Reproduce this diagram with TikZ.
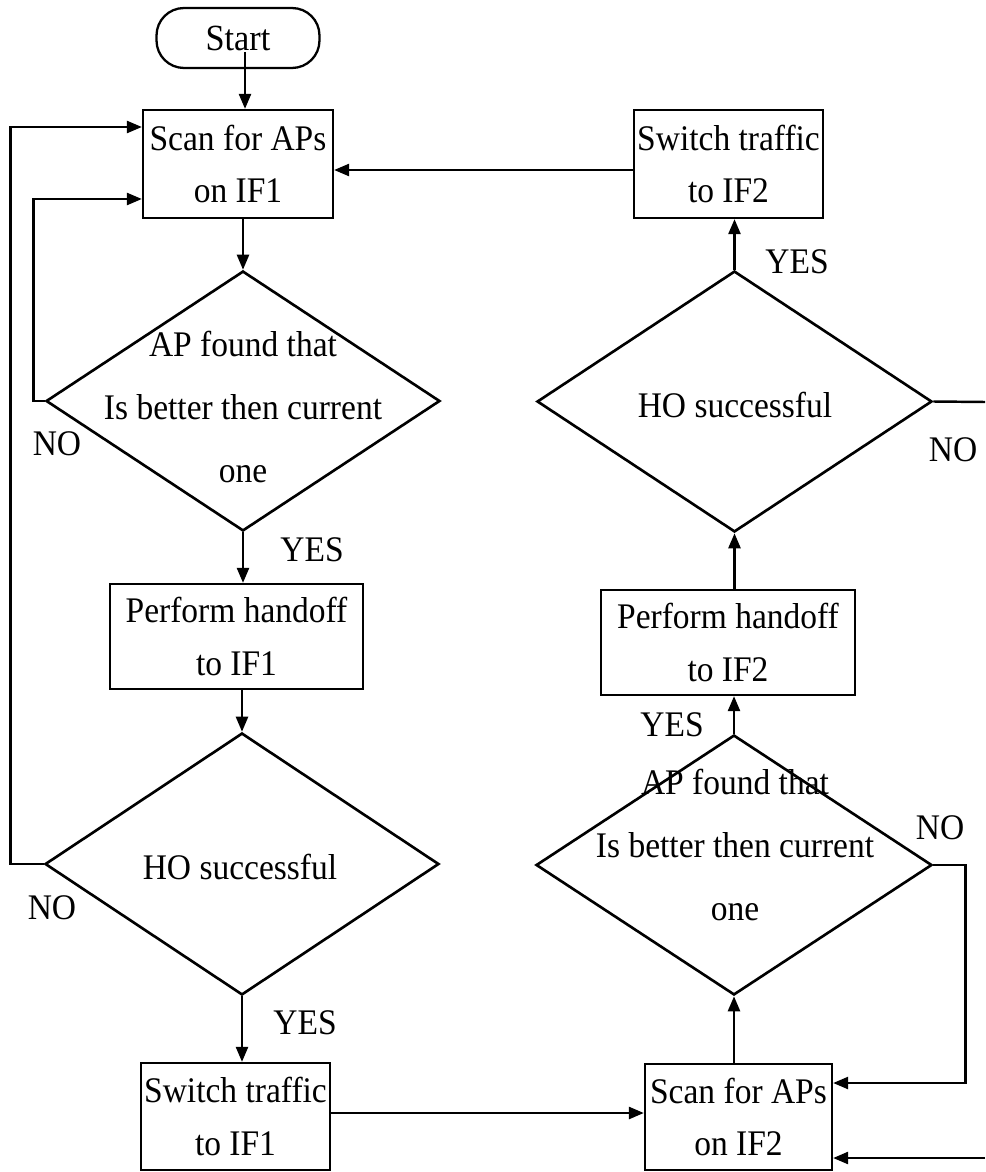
\documentclass[tikz,border=0pt]{standalone}
\usepackage{fontspec}
\setmainfont{Liberation Serif}[FakeStretch=0.93]
\usetikzlibrary{shapes.geometric, arrows.meta}

\begin{document}
\begin{tikzpicture}[x=0.02cm, y=-0.02cm,
  box/.style={draw, line width=1.3pt, rectangle, inner sep=0pt, align=center,
    font=\fontsize{20.5pt}{30pt}\selectfont},
  term/.style={draw, line width=1.3pt, rectangle, rounded corners=0.55cm, inner sep=0pt,
    font=\fontsize{21pt}{24pt}\selectfont},
  dec/.style={draw, line width=1.5pt, diamond, inner sep=0pt},
  dtext/.style={align=center, inner sep=0pt, font=\fontsize{20.5pt}{36pt}\selectfont},
  lab/.style={inner sep=0pt, font=\fontsize{20.5pt}{24pt}\selectfont},
  arr/.style={line width=1.4pt, -{Triangle[length=0.3cm, width=0.24cm]}},
  ln/.style={line width=1.4pt}
]
\useasboundingbox (0,0) rectangle (985,1172);

% ---- left column: interface 1 ----
\node[term, minimum width=3.26cm, minimum height=1.2cm] (start) at (238,38) {Start};
\node[box, minimum width=3.8cm, minimum height=2.16cm] (scan1) at (238,164) {Scan for APs\\on IF1};
\node[dec, minimum width=7.88cm, minimum height=5.2cm] (d1) at (243,401) {};
\node[dtext] (t1) at (243,407) {AP found that\\Is better then current\\one};
\node[box, minimum width=5.06cm, minimum height=2.1cm] (ph1) at (236.5,636.5) {Perform handoff\\to IF1};
\node[dec, minimum width=7.88cm, minimum height=5.24cm] (d2) at (242,864) {};
\node[dtext] (t2) at (240,867) {HO successful};
\node[box, minimum width=3.78cm, minimum height=2.14cm] (sw1) at (235.5,1116.5) {Switch traffic\\to IF1};

% ---- right column: interface 2 ----
\node[box, minimum width=3.78cm, minimum height=2.16cm] (sw2) at (728.5,164) {Switch traffic\\to IF2};
\node[dec, minimum width=7.9cm, minimum height=5.22cm] (d3) at (734.5,401.5) {};
\node[dtext] (t3) at (735,405) {HO successful};
\node[box, minimum width=5.08cm, minimum height=2.1cm] (ph2) at (728,642.5) {Perform handoff\\to IF2};
\node[dec, minimum width=7.92cm, minimum height=5.2cm] (d4) at (734,865) {};
\node[dtext] (t4) at (735,845) {AP found that\\Is better then current\\one};
\node[box, minimum width=3.74cm, minimum height=2.12cm] (scan2) at (738.5,1117) {Scan for APs\\on IF2};

% ---- branch labels ----
\node[lab] (y1) at (312,550) {YES};
\node[lab] (y2) at (305,1023) {YES};
\node[lab] (y3) at (672,725) {YES};
\node[lab] (y4) at (797,262) {YES};
\node[lab] (n1) at (57,444) {NO};
\node[lab] (n2) at (52,908) {NO};
\node[lab] (n3) at (953,450) {NO};
\node[lab] (n4) at (940,828) {NO};

% ---- main flow ----
\draw[arr] ([yshift=-0.28cm]start.center -| 245,0) -- (scan1.north -| 245,0);
\draw[arr] (scan1.south -| d1.north) -- (d1.north);
\draw[arr] (d1.south) -- (ph1.north -| d1.south);
\draw[arr] (ph1.south -| d2.north) -- (d2.north);
\draw[arr] (d2.south) -- (sw1.north -| d2.south);
\draw[arr] ([yshift=0.07cm]sw1.east) -- ([yshift=0.07cm]sw1.east -| scan2.west);
\draw[arr] (scan2.north -| d4.south) -- (d4.south);
\draw[arr] (d4.north) -- (ph2.south -| d4.north);
\draw[arr] (ph2.north -| d3.south) -- (d3.south);
\draw[arr] (d3.north) -- (sw2.south -| d3.north);
\draw[arr] ([yshift=-0.12cm]sw2.west) -- ([yshift=-0.12cm]sw2.west -| scan1.east);

% ---- NO loops ----
\draw[arr] (d1.west) -- ++(-11,0) |- ([yshift=-0.7cm]scan1.west);
\draw[arr] (d2.west) -- ++(-33,0) |- ([yshift=0.74cm]scan1.west);
\coordinate (e3) at (985,402);
\draw[ln] (d3.east) -- (e3);
\draw[arr] (d4.east) -- ++(32,0) |- ([yshift=0.68cm]scan2.east);
\coordinate (e4) at (985,1158);
\draw[arr] (e4) -- (e4 -| scan2.east);
\end{tikzpicture}
\end{document}
